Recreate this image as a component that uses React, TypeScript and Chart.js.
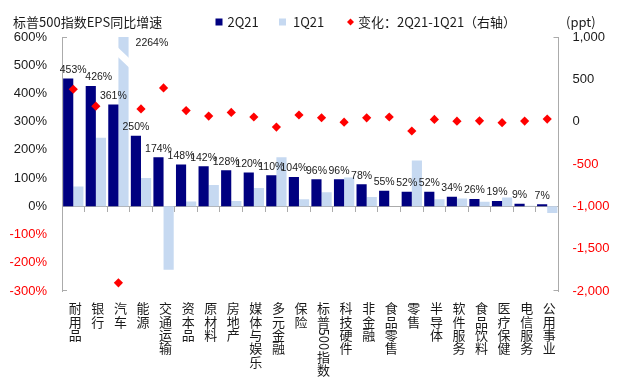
import React, { useEffect, useRef } from 'react';
import { Chart, registerables } from 'chart.js';

Chart.register(...registerables);

const categories = ['耐用品', '银行', '汽车', '能源', '交通运输', '资本品', '原材料', '房地产', '媒体与娱乐', '多元金融', '保险', '标普500指数', '科技硬件', '非金融', '食品零售', '零售', '半导体', '软件服务', '食品饮料', '医疗保健', '电信服务', '公用事业'];
const eps2Q21 = [453, 426, 361, 250, 174, 148, 142, 128, 120, 110, 104, 96, 96, 78, 55, 52, 52, 34, 26, 19, 9, 7];
const eps1Q21 = [70, 243, 2264, 100, -225, 17, 76, 19, 65, 174, 25, 50, 102, 33, 0, 162, 25, 28, 16, 31, 2, -24];
const changePpt = [383, 183, -1903, 150, 399, 131, 66, 109, 55, -64, 79, 46, -6, 45, 55, -110, 27, 6, 10, -12, 7, 31];
const leftTicks = { min: -300, max: 600, step: 100 };
const rightTicks = { min: -2000, max: 1000, step: 500 };

const titleText = '标普500指数EPS同比增速';
const legend2Q = '2Q21';
const legend1Q = '1Q21';
const legendChange = '变化：2Q21-1Q21（右轴）';
const unitText = '(ppt)';

const CJK = '"Noto Sans CJK SC", "Noto Sans", sans-serif';
const NUM = '"Liberation Sans", Arial, sans-serif';
const DARK = '#000080';
const LIGHT = '#C6D9F1';
const RED = '#FF0000';
const AXIS = '#ABABAB';
const TEXT = '#1a1a1a';

const decorPlugin = {
  id: 'decor',
  afterDatasetsDraw(chart: any) {
    const ctx = chart.ctx;
    const area = chart.chartArea;
    // break on the truncated 1Q21 bar (values beyond axis max)
    const lightMeta = chart.getDatasetMeta(2);
    lightMeta.data.forEach((bar: any, i: number) => {
      if (eps1Q21[i] > leftTicks.max) {
        const l = bar.x - bar.width / 2 - 1;
        const r = bar.x + bar.width / 2 + 1;
        const t = area.top + 10;
        ctx.save();
        ctx.fillStyle = '#FFFFFF';
        ctx.beginPath();
        ctx.moveTo(l, t);
        ctx.lineTo(r, t + 11.5);
        ctx.lineTo(r, t + 21);
        ctx.lineTo(l, t + 9.5);
        ctx.closePath();
        ctx.fill();
        ctx.fillStyle = TEXT;
        ctx.font = `10.5px ${NUM}`;
        ctx.textAlign = 'left';
        ctx.textBaseline = 'middle';
        ctx.fillText(eps1Q21[i] + '%', r + 6, area.top + 6.5);
        ctx.restore();
      }
    });
    // value labels above 2Q21 bars
    const darkMeta = chart.getDatasetMeta(1);
    const dx: Record<number, number> = { 0: 5, 1: 8 };
    ctx.save();
    ctx.fillStyle = TEXT;
    ctx.font = `10.5px ${NUM}`;
    ctx.textAlign = 'center';
    ctx.textBaseline = 'middle';
    darkMeta.data.forEach((bar: any, i: number) => {
      ctx.fillText(eps2Q21[i] + '%', bar.x + (dx[i] || 0), bar.y - 8.5);
    });
    ctx.restore();
  },
  afterDraw(chart: any) {
    const ctx = chart.ctx;
    const area = chart.chartArea;
    ctx.save();
    // axis end caps
    ctx.strokeStyle = AXIS;
    ctx.lineWidth = 1;
    ctx.beginPath();
    ctx.moveTo(area.left, area.top + 0.5); ctx.lineTo(area.left + 5, area.top + 0.5);
    ctx.moveTo(area.left, area.bottom - 0.5); ctx.lineTo(area.left + 5, area.bottom - 0.5);
    ctx.moveTo(area.right - 5, area.top + 0.5); ctx.lineTo(area.right, area.top + 0.5);
    ctx.moveTo(area.right - 5, area.bottom - 0.5); ctx.lineTo(area.right, area.bottom - 0.5);
    ctx.stroke();

    // category labels, vertical writing
    const xs = chart.scales.x;
    ctx.fillStyle = TEXT;
    ctx.font = `13px ${CJK}`;
    categories.forEach((label, i) => {
      const x = xs.getPixelForTick(i) + 2;
      let y = area.bottom + 11;
      const parts = label.match(/[0-9A-Za-z]+|./g) || [];
      parts.forEach((p) => {
        if (/^[0-9A-Za-z]+$/.test(p)) {
          const w = ctx.measureText(p).width;
          ctx.save();
          ctx.translate(x, y);
          ctx.rotate(Math.PI / 2);
          ctx.textAlign = 'left';
          ctx.textBaseline = 'middle';
          ctx.fillText(p, 0, 0);
          ctx.restore();
          y += w;
        } else {
          ctx.textAlign = 'center';
          ctx.textBaseline = 'top';
          ctx.fillText(p, x, y);
          y += 13.3;
        }
      });
    });

    // title and legend
    const cy = 22;
    ctx.textBaseline = 'middle';
    ctx.textAlign = 'left';
    ctx.font = `13px ${CJK}`;
    ctx.fillStyle = TEXT;
    ctx.fillText(titleText, 13, cy);
    ctx.fillStyle = DARK;
    ctx.fillRect(215.5, cy - 3.5, 7, 7);
    ctx.fillStyle = TEXT;
    ctx.fillText(legend2Q, 227.5, cy);
    ctx.fillStyle = LIGHT;
    ctx.fillRect(279, cy - 3.5, 7, 7);
    ctx.fillStyle = TEXT;
    ctx.fillText(legend1Q, 293, cy);
    ctx.fillStyle = RED;
    ctx.beginPath();
    ctx.moveTo(350.5, cy - 3.5); ctx.lineTo(354, cy); ctx.lineTo(350.5, cy + 3.5); ctx.lineTo(347, cy);
    ctx.closePath();
    ctx.fill();
    ctx.fillStyle = TEXT;
    ctx.fillText(legendChange, 358, cy);
    ctx.fillText(unitText, 566, cy);
    ctx.restore();
  },
};

export default function App() {
  const ref = useRef<HTMLCanvasElement>(null);
  useEffect(() => {
    if (!ref.current) return;
    const chart = new Chart(ref.current, {
      type: 'bar',
      data: {
        labels: categories,
        datasets: [
          {
            type: 'line' as const,
            label: legendChange,
            data: changePpt,
            yAxisID: 'y1',
            showLine: false,
            pointStyle: 'rectRot',
            pointRadius: 4.6,
            pointBackgroundColor: RED,
            pointBorderColor: RED,
            pointBorderWidth: 0,
            order: 0,
          },
          {
            label: legend2Q,
            data: eps2Q21,
            backgroundColor: DARK,
            yAxisID: 'y',
            categoryPercentage: 0.9,
            barPercentage: 1.0,
            order: 1,
          },
          {
            label: legend1Q,
            data: eps1Q21,
            backgroundColor: LIGHT,
            yAxisID: 'y',
            categoryPercentage: 0.9,
            barPercentage: 1.0,
            order: 2,
          },
        ],
      },
      options: {
        responsive: false,
        animation: false,
        devicePixelRatio: 1,
        layout: { padding: { top: 37, bottom: 93, left: 0, right: 0 } },
        plugins: { legend: { display: false }, tooltip: { enabled: false } },
        scales: {
          x: {
            position: { y: 0 } as any,
            offset: true,
            grid: { display: true, drawOnChartArea: false, drawTicks: true, tickLength: 5, offset: true, color: AXIS },
            border: { display: true, color: AXIS },
            ticks: { display: false },
          },
          y: {
            position: 'left',
            min: leftTicks.min,
            max: leftTicks.max,
            ticks: {
              stepSize: leftTicks.step,
              callback: (v: any) => v + '%',
              color: (c: any) => (c.tick.value < 0 ? RED : TEXT),
              font: { family: NUM, size: 13 },
              padding: 15,
            },
            grid: { display: false, drawTicks: false },
            border: { display: true, color: AXIS },
            afterFit: (s: any) => { s.width = 62; },
          },
          y1: {
            position: 'right',
            min: rightTicks.min,
            max: rightTicks.max,
            ticks: {
              stepSize: rightTicks.step,
              callback: (v: any) => Number(v).toLocaleString('en-US'),
              color: (c: any) => (c.tick.value < 0 ? RED : TEXT),
              font: { family: NUM, size: 13 },
              padding: 14,
            },
            grid: { display: false, drawTicks: false },
            border: { display: true, color: AXIS },
            afterFit: (s: any) => { s.width = 66.5; },
          },
        },
      },
      plugins: [decorPlugin],
    });
    return () => chart.destroy();
  }, []);
  return (
    <div style={{ position: 'fixed', left: 0, top: 0, width: 625, height: 384, background: '#fff' }}>
      <canvas ref={ref} width={625} height={384} />
    </div>
  );
}
